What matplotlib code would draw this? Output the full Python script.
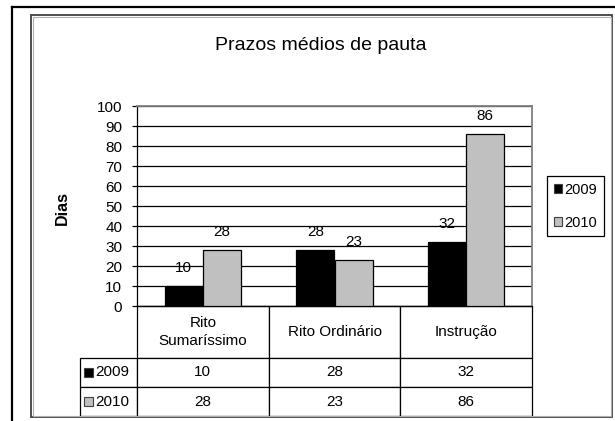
import matplotlib
matplotlib.use("Agg")
import matplotlib.pyplot as plt
from matplotlib.patches import Rectangle, Patch
from matplotlib.lines import Line2D
from matplotlib.table import Table

plt.rcParams['font.family'] = ['Liberation Sans', 'DejaVu Sans']

categories = ['Rito\nSumaríssimo', 'Rito Ordinário', 'Instrução']
years = ['2009', '2010']
values_2009 = [10, 28, 32]
values_2010 = [28, 23, 86]
colors = ['#000000', '#c0c0c0']

W, H = 615, 421
FS = 11
fig = plt.figure(figsize=(W / 100, H / 100), dpi=100)


def fx(px):
    return px / W


def fy(py):
    return 1 - py / H


# plot area in pixel coords: x 137..532, y 106 (100) .. 306 (0)
AX_L, AX_R, AX_T, AX_B = 137, 532, 106, 306
AW, AH = AX_R - AX_L, AX_B - AX_T
ax = fig.add_axes([fx(AX_L), fy(AX_B), fx(AX_R) - fx(AX_L), fy(AX_T) - fy(AX_B)])

x = range(len(categories))
bw = 0.29
series = [values_2009, values_2010]
for k, vals in enumerate(series):
    off = (k - 0.5) * bw
    bars = ax.bar([i + off for i in x], vals, width=bw, color=colors[k],
                  edgecolor='black', linewidth=0.9, zorder=3)
    for b, v in zip(bars, vals):
        ax.annotate(str(v), (b.get_x() + b.get_width() / 2, v),
                    xytext=(0, 13), textcoords='offset points',
                    ha='center', va='center', fontsize=FS, zorder=4)

ax.set_xlim(-0.5, len(categories) - 0.5)
ax.set_ylim(0, 100)
ax.set_yticks(range(0, 101, 10))
ax.set_xticks([])
ax.yaxis.grid(True, color='black', linewidth=0.9, zorder=0)
ax.set_axisbelow(True)
ax.tick_params(axis='y', length=3.6, width=0.9, pad=7, labelsize=FS)
ax.spines['left'].set_linewidth(0.9)
ax.spines['bottom'].set_linewidth(0.9)
for s in ['top', 'right']:
    ax.spines[s].set_color('#808080')
    ax.spines[s].set_linewidth(1.3)

fig.text(fx(62), fy(208), 'Dias', rotation=90, ha='center', va='center',
         fontsize=11.5, fontweight='bold')
fig.text(fx(321), fy(46), 'Prazos médios de pauta', ha='center', va='center',
         fontsize=14)

# data table under the plot (sizes in axes fractions)
head_h = 52 / AH
row_h = 29 / AH
col_w = 1 / len(categories)
lab_w = (AX_L - 80) / AW
tb = Table(ax, bbox=[0, -(head_h + 2 * row_h), 1, head_h + 2 * row_h])
for j, c in enumerate(categories):
    cell = tb.add_cell(0, j, width=col_w, height=head_h, text=c, loc='center')
    cell.get_text().set_linespacing(1.4)
for r, (yr, vals) in enumerate(zip(years, series), start=1):
    cell = tb.add_cell(r, -1, width=lab_w, height=row_h, text=yr, loc='left')
    cell.PAD = 0.26
    for j, v in enumerate(vals):
        tb.add_cell(r, j, width=col_w, height=row_h, text=str(v), loc='center')
tb.auto_set_font_size(False)
tb.set_fontsize(FS)
for cell in tb.get_celld().values():
    cell.set_edgecolor('black')
    cell.set_linewidth(0.9)
ax.add_table(tb)

# small colour keys in the row labels
for r, c in enumerate(colors):
    cy = AX_B + 52 + 29 * r + 14.5
    ax.add_patch(Rectangle(((84 - AX_L) / AW, (AX_B - cy - 4.5) / AH), 9 / AW, 9 / AH,
                           transform=ax.transAxes, clip_on=False, zorder=5,
                           facecolor=c, edgecolor='#404040', linewidth=0.8))

handles = [Patch(facecolor=c, edgecolor='#404040', linewidth=0.8) for c in colors]
leg = fig.legend(handles, years, loc='upper left',
                 bbox_to_anchor=(fx(547), fy(176)), borderaxespad=0,
                 fontsize=10.5, handlelength=0.6, handleheight=0.6,
                 handletextpad=0.15, labelspacing=1.3, borderpad=0.45,
                 fancybox=False, framealpha=1, edgecolor='black')
leg.get_frame().set_linewidth(0.9)

# chart frames
fig.add_artist(Line2D([fx(12), fx(12)], [fy(6.5), 0], color='black', linewidth=1.6))
fig.add_artist(Line2D([fx(12), 1], [fy(6.5), fy(6.5)], color='black', linewidth=1.6))
fig.add_artist(Rectangle((fx(31.5), fy(417)), fx(612) - fx(31.5), fy(15) - fy(417),
                         fill=False, edgecolor='#404040', linewidth=1.3))
fig.add_artist(Rectangle((fx(33), fy(415.5)), fx(610.5) - fx(33), fy(16.5) - fy(415.5),
                         fill=False, edgecolor='#b0b0b0', linewidth=0.8))

fig.savefig('out.png', dpi=100)
